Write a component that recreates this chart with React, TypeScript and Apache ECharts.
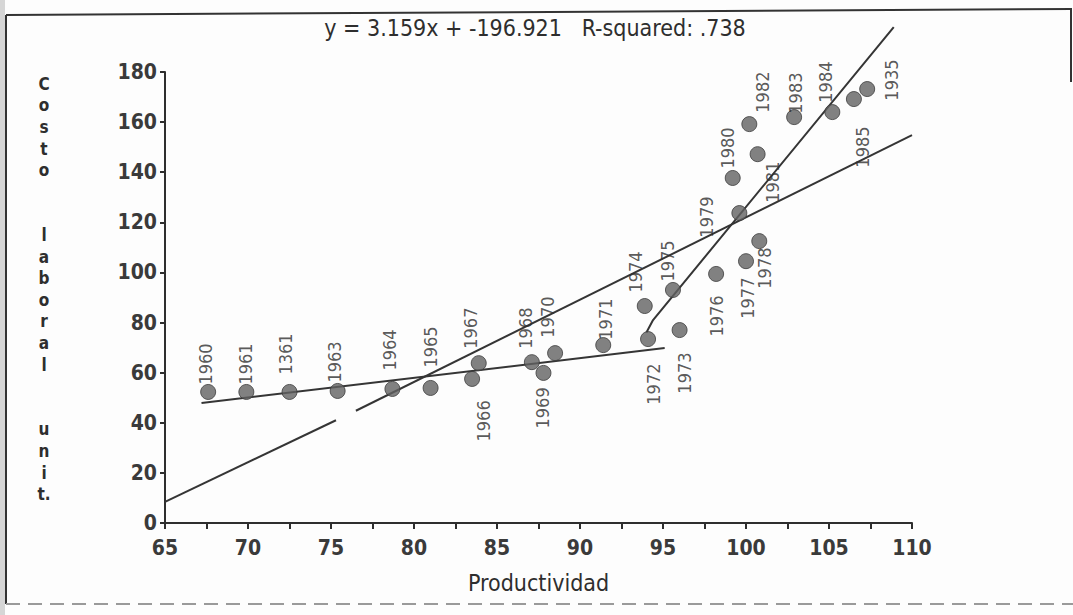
import React, { useEffect, useRef } from "react";
import * as echarts from "echarts";

// ---- data ----
const years = [
  "1960", "1961", "1361", "1963", "1964", "1965", "1966", "1967", "1968",
  "1969", "1970", "1971", "1972", "1973", "1974", "1975", "1976", "1977",
  "1978", "1979", "1980", "1981", "1982", "1983", "1984", "1985", "1935",
];
const productividad = [
  67.6, 69.9, 72.5, 75.4, 78.7, 81.0, 83.5, 83.9, 87.1, 87.8, 88.5, 91.4,
  94.1, 96.0, 93.9, 95.6, 98.2, 100.0, 100.8, 99.6, 99.2, 100.7, 100.2,
  102.9, 105.2, 106.5, 107.3,
];
const costoLaboral = [
  52.3, 52.3, 52.3, 52.7, 53.5, 53.9, 57.5, 63.8, 64.2, 59.9, 67.8, 71.0,
  73.4, 77.0, 86.6, 93.0, 99.4, 104.5, 112.5, 123.7, 137.7, 147.2, 159.2,
  162.0, 164.0, 169.2, 173.2,
];
// fitted lines (end points)
const overallFitA = [[65, 8.4], [75.3, 41.0]];
const overallFitB = [[76.5, 44.8], [110, 154.8]];
const earlyFit = [[67.2, 47.9], [95.1, 69.8]];
const lateFit = [[94.0, 76.0], [94.4, 81.0], [108.9, 197.9]];

const xTicks = { min: 65, max: 110, interval: 5 };
const yTicks = { min: 0, max: 180, interval: 20 };

const titleText = "y = 3.159x + -196.921   R-squared: .738";
const xTitle = "Productividad";
const yTitle = "Costo laboral unit.";

// label placement (screen px, label centre relative to its point) — styling only
const labelShift: number[][] = [
  [-3, -28], [-1, -28], [-4, -38], [-3, -29], [-3, -39], [0, -41], [11, 42],
  [-8, -35], [-6, -34], [-1, 35], [-8, -36], [2, -26], [5, 45], [5, 43],
  [-9, -34], [-5, -29], [0, 42], [1, 37], [5, 27], [-33, 4], [-5, -30],
  [15, 28], [13, -32], [1, -24], [-7, -30], [9, 48], [24, -9],
];

const FONT = "'DejaVu Sans Condensed', 'DejaVu Sans', sans-serif";
const INK = "#2e2e2e";

export default function App() {
  const ref = useRef<HTMLDivElement>(null);
  useEffect(() => {
    document.body.style.margin = "0";
    const chart = echarts.init(ref.current!, null, { renderer: "svg" });

    const points = productividad.map((x, i) => ({
      value: [x, costoLaboral[i]],
      name: years[i],
      label: {
        show: true,
        formatter: years[i],
        position: "inside",
        rotate: 90,
        offset: [-labelShift[i][1], labelShift[i][0]],
        fontFamily: FONT,
        fontSize: 18,
        color: INK,
      },
    }));

    const lineStyle = { color: "#353535", width: 2 };
    const lineSeries = (data: number[][]) => ({
      type: "line",
      data,
      showSymbol: false,
      symbol: "none",
      clip: false,
      lineStyle,
      z: 2,
      silent: true,
    });

    const yLetters: string[] = [];
    yTitle.split(" ").forEach((w, wi) => {
      if (wi > 0) yLetters.push("", "");
      const chars = w.split("");
      for (let k = 0; k < chars.length; k++) {
        if (chars[k] === "." && yLetters.length) {
          yLetters[yLetters.length - 1] += ".";
        } else yLetters.push(chars[k]);
      }
    });

    chart.setOption({
      animation: false,
      backgroundColor: "#fdfdfd",
      grid: { left: 165, right: 161, top: 72, bottom: 92 },
      xAxis: {
        type: "value",
        min: xTicks.min,
        max: xTicks.max,
        interval: xTicks.interval,
        name: xTitle,
        nameLocation: "middle",
        nameGap: 48,
        nameTextStyle: { fontFamily: FONT, fontSize: 23, color: INK },
        axisLine: { show: true, onZero: false, lineStyle: { color: INK, width: 2 } },
        axisTick: { show: true, length: 6, lineStyle: { color: INK, width: 2 } },
        minorTick: { show: true, splitNumber: 2, length: 6, lineStyle: { color: INK, width: 2 } },
        axisLabel: { fontFamily: FONT, fontSize: 21, fontWeight: "bold", color: "#3a3a3a", margin: 14 },
        splitLine: { show: false },
      },
      yAxis: {
        type: "value",
        min: yTicks.min,
        max: yTicks.max,
        interval: yTicks.interval,
        axisLine: { show: true, lineStyle: { color: INK, width: 2 } },
        axisTick: { show: true, length: 5, lineStyle: { color: INK, width: 2 } },
        axisLabel: { fontFamily: FONT, fontSize: 21, fontWeight: "bold", color: "#3a3a3a", margin: 8 },
        splitLine: { show: false },
      },
      series: [
        lineSeries(overallFitA),
        lineSeries(overallFitB),
        lineSeries(earlyFit),
        lineSeries(lateFit),
        {
          type: "scatter",
          data: points,
          symbolSize: 15,
          itemStyle: { color: "#626262", borderColor: "#3c3c3c", borderWidth: 1 },
          z: 3,
        },
      ],
      graphic: [
        { type: "rect", shape: { x: 0, y: 0, width: 5, height: 615 }, style: { fill: "#d6d6d6" }, silent: true },
        { type: "line", shape: { x1: 6, y1: 15, x2: 1072, y2: 9 }, style: { stroke: "#333", lineWidth: 2 } },
        { type: "line", shape: { x1: 6, y1: 15, x2: 6, y2: 604 }, style: { stroke: "#333", lineWidth: 2 } },
        { type: "line", shape: { x1: 1071, y1: 9, x2: 1071, y2: 82 }, style: { stroke: "#333", lineWidth: 2 } },
        { type: "line", shape: { x1: 6, y1: 604, x2: 1073, y2: 604 }, style: { stroke: "#9a9a9a", lineWidth: 2, lineDash: [14, 8] } },
        {
          type: "text",
          x: 535,
          y: 28,
          style: {
            text: titleText,
            fontFamily: FONT,
            fontSize: 23,
            fill: INK,
            align: "center",
            verticalAlign: "middle",
          },
        },
        {
          type: "text",
          x: 44,
          y: 73,
          style: {
            text: yLetters.join("\n"),
            fontFamily: FONT,
            fontSize: 17,
            fontWeight: "bold",
            lineHeight: 21.6,
            fill: INK,
            align: "center",
            verticalAlign: "top",
          },
        },
      ],
    });
    return () => chart.dispose();
  }, []);
  return <div ref={ref} style={{ width: 1073, height: 615 }} />;
}
